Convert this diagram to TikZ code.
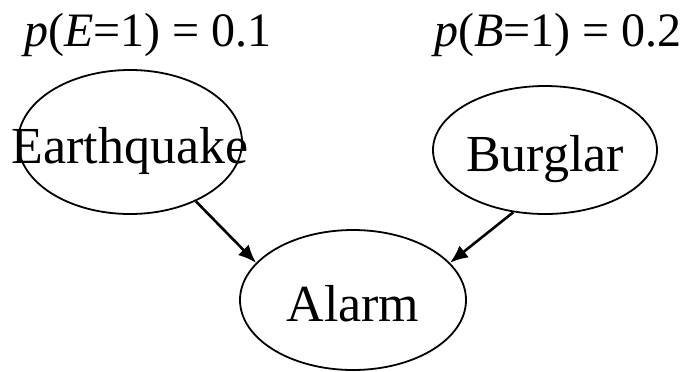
\documentclass[tikz,border=0pt]{standalone}
\usepackage{fontspec}
\setmainfont{Liberation Serif}
\usetikzlibrary{shapes.geometric,arrows.meta}

\begin{document}
\begin{tikzpicture}[
  x=0.5pt, y=-0.5pt,
  var/.style={draw, ellipse, line width=0.9pt, inner sep=0pt, font=\fontsize{26}{30}\selectfont, text height=23pt, text depth=2pt},
  prior/.style={inner sep=0pt, font=\fontsize{24}{28}\selectfont},
  arrow/.style={-{Latex[length=9pt,width=7.5pt]}, line width=1.3pt}
]
\useasboundingbox (0,0) rectangle (686,371);
% priors
\node[prior, anchor=base west] (pe) at (24,46) {\textit{p}(\textit{E}=1) = 0.1};
\node[prior, anchor=base east] (pb) at (682,46) {\textit{p}(\textit{B}=1) = 0.2};

% variables
\node[var, minimum width=112pt, minimum height=72pt] (eq) at (130,142) {\makebox[0pt]{Earthquake}};
\node[var, minimum width=112pt, minimum height=64pt] (burg) at (545,150) {\makebox[0pt]{Burglar}};
\node[var, minimum width=113pt, minimum height=70pt] (alarm) at (353,300) {\makebox[0pt]{Alarm}};

\draw[arrow] (eq.-42) -- (alarm.159);
\draw[arrow] (burg.243) -- (alarm.21);
\end{tikzpicture}
\end{document}
